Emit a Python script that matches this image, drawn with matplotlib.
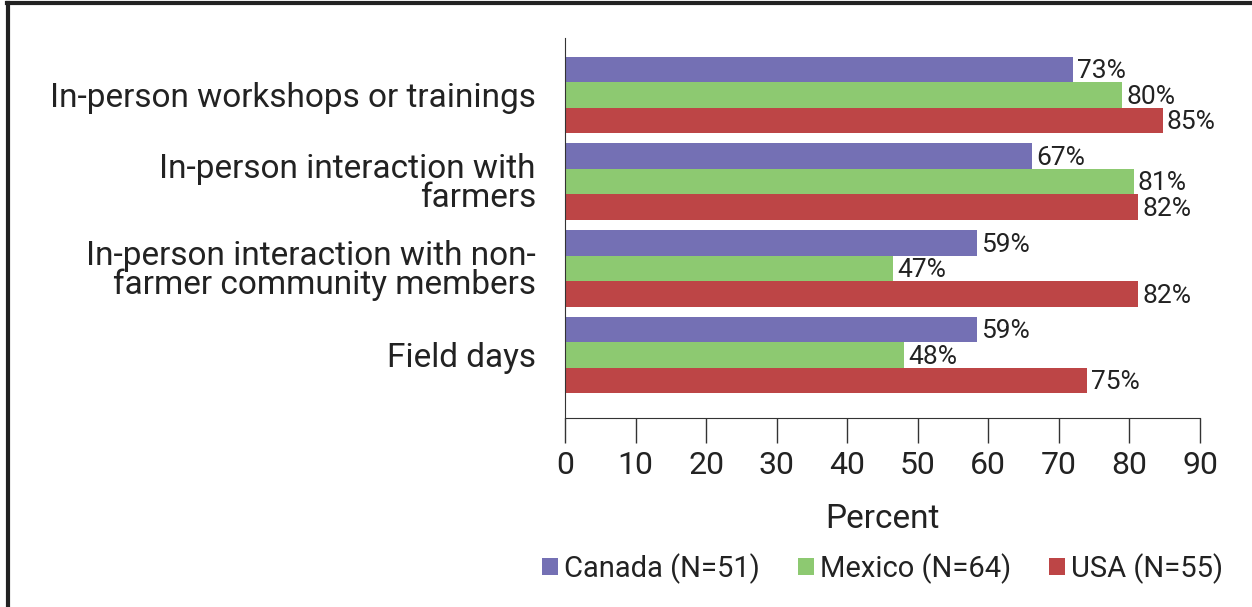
import matplotlib.pyplot as plt
import numpy as np
from matplotlib.lines import Line2D

plt.rcParams['font.family'] = ['Roboto', 'DejaVu Sans']

categories = ['In-person workshops or trainings',
              'In-person interaction with\nfarmers',
              'In-person interaction with non-\nfarmer community members',
              'Field days']
series = ['Canada (N=51)', 'Mexico (N=64)', 'USA (N=55)']
colors = ['#7470B4', '#8DC971', '#BD4546']

# bar lengths as drawn
canada = [72.0, 66.2, 58.4, 58.4]
mexico = [79.0, 80.6, 46.5, 48.0]
usa = [84.7, 81.2, 81.2, 74.0]
# printed labels
canada_lab = [73, 67, 59, 59]
mexico_lab = [80, 81, 47, 48]
usa_lab = [85, 82, 82, 75]

fig = plt.figure(figsize=(12.52, 6.07), dpi=100)
ax = fig.add_axes([565/1252, 1-418/607, (1200-565)/1252, (418-38)/607])

y = np.arange(len(categories))
w = 0.294
groups = [(canada, canada_lab), (mexico, mexico_lab), (usa, usa_lab)]
for k, ((vals, labs), c, lab) in enumerate(zip(groups, colors, series)):
    pos = y + (k-1)*w
    ax.barh(pos, vals, height=w, color=c, label=lab)
    for p, v, t in zip(pos, vals, labs):
        ax.text(v + 0.6, p + 0.02, '%d%%' % t, va='center', ha='left',
                fontsize=19, color='#222222')

ax.set_xlim(0, 90)
ax.set_ylim(3.727, -0.657)
ax.set_xticks(range(0, 91, 10))
ax.set_yticks(y)
ax.set_yticklabels(categories, fontsize=24, color='#222222', ha='right',
                   linespacing=0.88)
ax.tick_params(axis='y', length=0, pad=21)
ax.tick_params(axis='x', direction='out', length=18, width=1, color='#333333',
               labelsize=23, labelcolor='#222222', pad=6)
for s in ['top', 'right']:
    ax.spines[s].set_visible(False)
for s in ['left', 'bottom']:
    ax.spines[s].set_color('#333333')
ax.set_xlabel('Percent', fontsize=24, color='#222222', labelpad=16)

ax.legend(loc='upper center', bbox_to_anchor=(0.5, -0.325), ncol=3, frameon=False,
          fontsize=21, handlelength=0.55, handleheight=0.55, handletextpad=0.2,
          columnspacing=1.3, labelcolor='#222222', borderaxespad=0)

fig.add_artist(Line2D([8/1252, 8/1252], [0, 1-3/607], color='#222222', lw=3,
                      transform=fig.transFigure))
fig.add_artist(Line2D([7/1252, 1], [1-3/607, 1-3/607], color='#222222', lw=3,
                      transform=fig.transFigure))

fig.savefig('out.png', dpi=100)
